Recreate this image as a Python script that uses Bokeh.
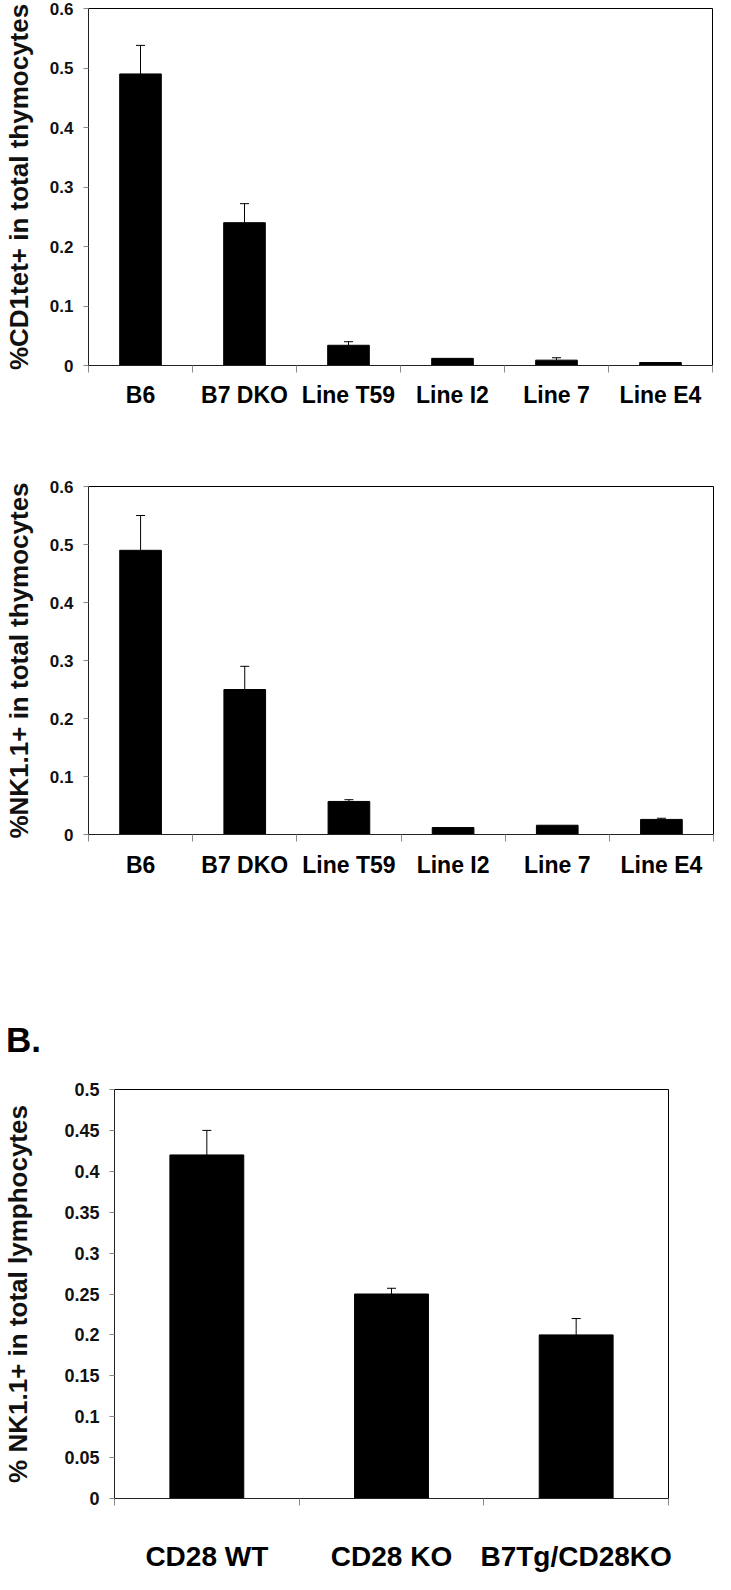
from bokeh.plotting import figure
from bokeh.models import Range1d, FixedTicker, Whisker, TeeHead, ColumnDataSource, Div
from bokeh.layouts import column
from bokeh.embed import file_html
from bokeh.resources import INLINE

# ---------------- data ----------------
thy_categories = ["B6", "B7 DKO", "Line T59", "Line I2", "Line 7", "Line E4"]

cd1tet_values = [0.49, 0.24, 0.034, 0.012, 0.009, 0.005]
cd1tet_errors = [0.048, 0.032, 0.006, 0.0, 0.004, 0.0]
cd1tet_title = "%CD1tet+ in total thymocytes"

nk_thy_values = [0.49, 0.25, 0.057, 0.012, 0.016, 0.026]
nk_thy_errors = [0.06, 0.04, 0.003, 0.0, 0.0, 0.002]
nk_thy_title = "%NK1.1+ in total thymocytes"

thy_ticks = [0, 0.1, 0.2, 0.3, 0.4, 0.5, 0.6]
thy_tick_labels = ["0", "0.1", "0.2", "0.3", "0.4", "0.5", "0.6"]

lym_categories = ["CD28 WT", "CD28 KO", "B7Tg/CD28KO"]
nk_lym_values = [0.42, 0.25, 0.20]
nk_lym_errors = [0.03, 0.007, 0.02]
nk_lym_title = "% NK1.1+ in total lymphocytes"
lym_ticks = [0, 0.05, 0.1, 0.15, 0.2, 0.25, 0.3, 0.35, 0.4, 0.45, 0.5]
lym_tick_labels = ["0", "0.05", "0.1", "0.15", "0.2", "0.25", "0.3", "0.35", "0.4", "0.45", "0.5"]

panel_label = "B."

FONT = "Liberation Sans"


def make_panel(categories, values, errors, ticks, tick_labels, ytitle,
               width, height, borders, tick_font, cat_font, title_font,
               cat_standoff, title_standoff):
    n = len(categories)
    centers = [i + 0.5 for i in range(n)]
    p = figure(width=width, height=height,
               x_range=Range1d(0, n), y_range=Range1d(ticks[0], ticks[-1]),
               output_backend="svg", toolbar_location=None, tools="")
    p.frame_align = False
    top, right, bottom, left = borders
    p.min_border_top = top
    p.min_border_right = right
    p.min_border_bottom = bottom
    p.min_border_left = left
    p.background_fill_color = "white"
    p.border_fill_color = "white"
    p.outline_line_color = "black"
    p.outline_line_width = 1
    p.xgrid.visible = False
    p.ygrid.visible = False

    p.vbar(x=centers, top=values, width=0.4, fill_color="black", line_color="black")

    ex = [c for c, e in zip(centers, errors) if e > 0]
    lo = [v for v, e in zip(values, errors) if e > 0]
    hi = [v + e for v, e in zip(values, errors) if e > 0]
    src = ColumnDataSource(dict(x=ex, lower=lo, upper=hi))
    w = Whisker(base="x", lower="lower", upper="upper", source=src,
                dimension="height", line_color="black", line_width=1,
                upper_head=TeeHead(size=9, line_color="black", line_width=1),
                lower_head=None)
    p.add_layout(w)

    xa = p.xaxis[0]
    xa.ticker = FixedTicker(ticks=centers, minor_ticks=list(range(n + 1)))
    xa.major_label_overrides = dict(zip(centers, categories))
    xa.major_tick_out = 0
    xa.major_tick_in = 0
    xa.minor_tick_out = 7
    xa.minor_tick_in = 0
    xa.minor_tick_line_color = "#888888"
    xa.axis_line_color = "#222222"
    xa.axis_line_width = 1.2
    xa.major_label_text_font = FONT
    xa.major_label_text_font_style = "bold"
    xa.major_label_text_font_size = cat_font
    xa.major_label_text_color = "black"
    xa.major_label_standoff = cat_standoff

    ya = p.yaxis[0]
    ya.ticker = FixedTicker(ticks=ticks, minor_ticks=[])
    ya.major_label_overrides = dict(zip(ticks, tick_labels))
    ya.major_tick_out = 5
    ya.major_tick_in = 0
    ya.major_tick_line_color = "#888888"
    ya.axis_line_color = "#222222"
    ya.major_label_text_font = FONT
    ya.major_label_text_font_style = "bold"
    ya.major_label_text_font_size = tick_font
    ya.major_label_text_color = "#111111"
    ya.major_label_standoff = 10
    ya.axis_label = ytitle
    ya.axis_label_text_font = FONT
    ya.axis_label_text_font_style = "bold"
    ya.axis_label_text_font_size = title_font
    ya.axis_label_text_color = "#111111"
    ya.axis_label_standoff = title_standoff
    return p


p1 = make_panel(thy_categories, cd1tet_values, cd1tet_errors, thy_ticks, thy_tick_labels,
                cd1tet_title, width=715, height=436, borders=(8, 3, 71, 81),
                tick_font="17px", cat_font="23px", title_font="26px",
                cat_standoff=9, title_standoff=13)

p2 = make_panel(thy_categories, nk_thy_values, nk_thy_errors, thy_ticks, thy_tick_labels,
                nk_thy_title, width=715, height=586, borders=(50, 2, 188, 81),
                tick_font="17px", cat_font="23px", title_font="26px",
                cat_standoff=10, title_standoff=13)

label_div = Div(text=panel_label, width=715, height=40, margin=(0, 0, 0, 0),
                styles={"font-family": FONT, "font-weight": "bold",
                        "font-size": "35px", "line-height": "35px",
                        "padding-left": "6px", "color": "black"})

p3 = make_panel(lym_categories, nk_lym_values, nk_lym_errors, lym_ticks, lym_tick_labels,
                nk_lym_title, width=715, height=512, borders=(27, 47, 70, 108),
                tick_font="18px", cat_font="28px", title_font="26px",
                cat_standoff=35, title_standoff=28)

layout = column(p1, p2, label_div, p3, spacing=0)

open("out.html", "w").write(file_html(layout, INLINE))
